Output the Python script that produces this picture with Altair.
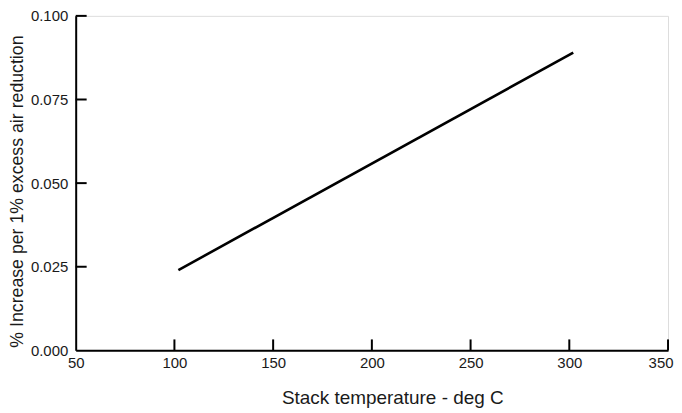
import altair as alt
import pandas as pd

# Data
temps = [102, 302]
increase = [0.024, 0.089]
x_ticks = [100, 150, 200, 250, 300, 350]
y_ticks = [0.025, 0.050, 0.075, 0.100]

line_df = pd.DataFrame({"t": temps, "v": increase})
xt_df = pd.DataFrame({"t": x_ticks})
yt_df = pd.DataFrame({"v": y_ticks})

W, H = 595, 336
FONT = "Liberation Sans"

xscale = alt.Scale(domain=[50, 350], nice=False, zero=False)
yscale = alt.Scale(domain=[0, 0.1], nice=False)

line = alt.Chart(line_df).mark_line(color="black", strokeWidth=2.6).encode(
    x=alt.X("t:Q", scale=xscale, title="Stack temperature - deg C",
            axis=alt.Axis(values=[50] + x_ticks, format="d", tickSize=0,
                          labelPadding=5, labelFontSize=15, labelFont=FONT,
                          labelColor="#1a1a1a", titleFont=FONT, titleFontSize=19,
                          labelAlign=alt.condition("datum.value == 350",
                                                   alt.value("right"),
                                                   alt.value("center")),
                          labelOffset=alt.condition("datum.value == 350",
                                                    alt.value(5), alt.value(0)),
                          titleFontWeight="normal", titleColor="#1a1a1a",
                          titleX=318, titleY=53, titleAlign="center",
                          titleBaseline="alphabetic",
                          domainColor="black", domainWidth=2,
                          grid=False, labelFlush=False)),
    y=alt.Y("v:Q", scale=yscale, title="% Increase per 1% excess air reduction",
            axis=alt.Axis(values=[0.0] + y_ticks, format=".3f", tickSize=0,
                          labelPadding=8, labelFontSize=15, labelFont=FONT,
                          labelColor="#1a1a1a", titleFont=FONT, titleFontSize=17.8,
                          titleFontWeight="normal", titleColor="#1a1a1a",
                          titleX=-58, titleY=176, titleBaseline="middle",
                          titleAlign="center", titleAngle=270,
                          domainColor="black", domainWidth=2,
                          grid=False, labelFlush=False)),
)

xticks = alt.Chart(xt_df).mark_rule(color="black", strokeWidth=2).encode(
    x=alt.X("t:Q", scale=xscale),
    y=alt.value(H),
    y2=alt.value(H - 11),
)

yticks = alt.Chart(yt_df).mark_rule(color="black", strokeWidth=2).encode(
    y=alt.Y("v:Q", scale=yscale),
    x=alt.value(0),
    x2=alt.value(11),
)

chart = alt.layer(line, xticks, yticks).properties(
    width=W, height=H,
    autosize=alt.AutoSizeParams(type="none"),
    padding={"left": 68, "top": 7, "right": 6, "bottom": 62},
).configure_view(stroke=None).configure(background="white")

chart.save("out.html", embed_options={"renderer": "svg", "actions": False})
